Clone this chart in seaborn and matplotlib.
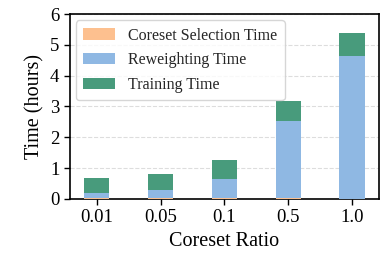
import pandas as pd
import seaborn as sns
import matplotlib.pyplot as plt
import numpy as np

# values (hours)
ratios = ['0.01', '0.05', '0.1', '0.5', '1.0']
selection = [0.04, 0.04, 0.04, 0.04, 0.0]
reweighting = [0.16, 0.25, 0.61, 2.49, 4.64]
training = [0.48, 0.52, 0.62, 0.65, 0.75]

df = pd.DataFrame({'ratio': ratios, 'sel': selection, 'rew': reweighting, 'train': training})
df['sel_rew'] = df['sel'] + df['rew']
df['total'] = df['sel_rew'] + df['train']

sns.set_style('ticks')
plt.rcParams['font.family'] = ['Liberation Serif', 'DejaVu Serif']

fig, ax = plt.subplots(figsize=(3.82, 2.56), dpi=100)
fig.subplots_adjust(left=0.183, right=0.992, top=0.945, bottom=0.223)

# stacked bars: draw the cumulative totals on top of each other
bar_kw = dict(width=0.4, ax=ax, saturation=1, linewidth=0, zorder=3)
sns.barplot(data=df, x='ratio', y='total', color='#489b7c', label='Training Time', **bar_kw)
sns.barplot(data=df, x='ratio', y='sel_rew', color='#8fb8e3', label='Reweighting Time', **bar_kw)
sns.barplot(data=df, x='ratio', y='sel', color='#fdc08f', label='Coreset Selection Time', **bar_kw)

ax.set_ylim(0, 6)
ax.set_yticks(range(7))
ax.set_xlim(-0.42, 4.42)
ax.grid(axis='y', linestyle='--', color='#dddddd', linewidth=0.8, zorder=0)
ax.set_axisbelow(True)
for s in ax.spines.values():
    s.set_linewidth(1.2)
    s.set_color('black')
ax.tick_params(labelsize=13.5, width=1.0, length=4, colors='black')
ax.set_xlabel('Coreset Ratio', fontsize=14.5, color='black')
ax.set_ylabel('Time (hours)', fontsize=14.5, color='black')

h, l = ax.get_legend_handles_labels()
ax.legend(h[::-1], l[::-1], loc='upper left', fontsize=11.5, frameon=True,
          handlelength=2.0, borderpad=0.45, labelspacing=0.55, borderaxespad=0.4)

fig.savefig('out.png', dpi=100)
